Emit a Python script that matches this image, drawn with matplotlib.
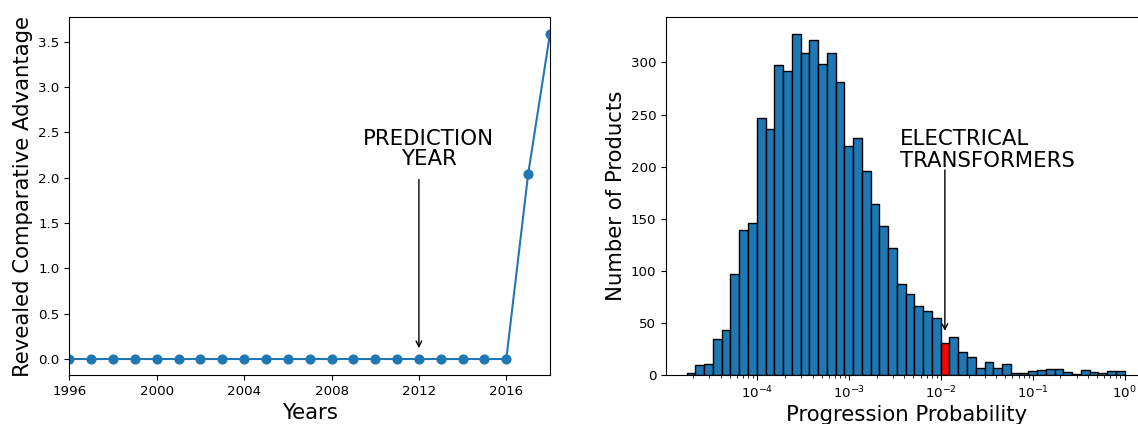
import numpy as np
import matplotlib
matplotlib.use("Agg")
import matplotlib.pyplot as plt

# ---- data: left panel ----
years = list(range(1996, 2019))
rca = [0.0] * 21 + [2.04, 3.59]
year_ticks = [1996, 2000, 2004, 2008, 2012, 2016]
prediction_year = 2012

# ---- data: right panel (histogram of progression probability) ----
log_min, log_max = -4.77, 0.0
counts = [2, 10, 11, 35, 43, 97, 139, 146, 247, 236,
          298, 292, 327, 309, 322, 299, 309, 281, 220, 228,
          196, 164, 143, 122, 88, 78, 66, 62, 55, 31,
          37, 22, 18, 7, 13, 7, 11, 2, 2, 4,
          5, 6, 6, 3, 1, 5, 3, 2, 4, 4]
highlight_bin = 29
product_prob = 10 ** -1.958

W, H = 1138, 424
fig = plt.figure(figsize=(W / 100, H / 100), dpi=100)

TICK_FS = 9.6
LABEL_FS = 15.3

ax1 = fig.add_axes([69.3 / W, 1 - 375.3 / H, 480.7 / W, 358 / H])
ax2 = fig.add_axes([666 / W, 1 - 375.3 / H, 480.7 / W, 358 / H])

# left panel
ax1.plot(years, rca, 'o-', color='#1f77b4', markersize=6.3, linewidth=1.5)
ax1.set_xlim(1996, 2018)
ax1.set_xticks(year_ticks)
ax1.set_xlabel('Years', fontsize=LABEL_FS, labelpad=3.5)
ax1.set_ylabel('Revealed Comparative Advantage', fontsize=LABEL_FS, labelpad=3.5)
ax1.tick_params(labelsize=TICK_FS)
ax1.annotate('', xy=(prediction_year, 0.12), xytext=(prediction_year, 1.98),
             arrowprops=dict(arrowstyle='->', color='black', lw=1,
                             shrinkA=0, shrinkB=0))
ax1.text(2012.45, 2.1, 'PREDICTION\nYEAR', ha='center', va='bottom',
         multialignment='center', fontsize=LABEL_FS, linespacing=1.0)

# right panel
edges = np.logspace(log_min, log_max, len(counts) + 1)
colors = ['#1f77b4'] * len(counts)
colors[highlight_bin] = 'red'
ax2.bar(edges[:-1], counts, width=np.diff(edges), align='edge',
        color=colors, edgecolor='black', linewidth=1)
ax2.set_xscale('log')
ax2.set_xlim(10 ** -4.995, 10 ** 0.24)
ax2.set_xlabel('Progression Probability', fontsize=LABEL_FS, labelpad=2.5)
ax2.set_ylabel('Number of Products', fontsize=LABEL_FS, labelpad=3.5)
ax2.tick_params(labelsize=TICK_FS)
ax2.annotate('', xy=(product_prob, 42.6), xytext=(product_prob, 197),
             arrowprops=dict(arrowstyle='->', color='black', lw=1,
                             shrinkA=0, shrinkB=0))
ax2.text(10 ** -2.45, 200, 'ELECTRICAL\nTRANSFORMERS', ha='left', va='baseline',
         fontsize=LABEL_FS, linespacing=1.08)

fig.savefig('out.png', dpi=100)
